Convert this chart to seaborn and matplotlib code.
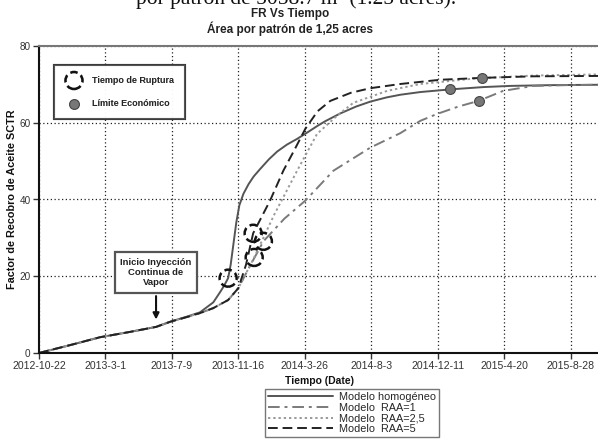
import numpy as np
import pandas as pd
import matplotlib
matplotlib.use("Agg")
import matplotlib.pyplot as plt
import matplotlib.dates as mdates
from matplotlib.ticker import FuncFormatter
import seaborn as sns

sns.set_theme(style="white")
plt.rcParams['font.family'] = ['Liberation Sans', 'DejaVu Sans']

start = pd.Timestamp("2012-10-22")

# days since 2012-10-22 and recovery factor (%)
homog_days = [0, 65, 119, 178, 229, 258, 290, 315, 341, 354, 362, 370, 375, 380, 386, 392, 400, 410, 420, 433, 450, 466, 485, 505, 523, 545, 560, 589, 620, 648, 680, 707, 746, 805, 870, 922, 1000, 1096]
homog_vals = [0, 2.2, 4.1, 5.5, 6.8, 8.2, 9.5, 10.6, 13.2, 15.8, 17.5, 19.5, 23, 28, 34, 38.5, 41.5, 44, 46, 48, 50.5, 52.5, 54.3, 55.8, 57.3, 59.2, 60.4, 62.4, 64.2, 65.5, 66.6, 67.3, 68.0, 68.7, 69.3, 69.6, 69.8, 69.9]

raa1_days = [0, 65, 119, 178, 229, 258, 290, 315, 341, 370, 390, 410, 439, 480, 521, 576, 648, 707, 746, 779, 820, 860, 908, 967, 1030, 1096]
raa1_vals = [0, 2.2, 4.1, 5.5, 6.8, 8.2, 9.4, 10.4, 11.7, 13.8, 16.9, 22, 29.1, 35, 39.7, 47.5, 53.5, 57.3, 60.5, 62.3, 64.2, 65.7, 68.3, 69.6, 69.8, 69.9]

raa25_days = [0, 65, 119, 178, 229, 258, 290, 315, 341, 370, 390, 421, 460, 505, 544, 583, 615, 681, 746, 850, 967, 1096]
raa25_vals = [0, 2.2, 4.1, 5.5, 6.8, 8.2, 9.4, 10.4, 11.7, 13.8, 16.9, 24.9, 36, 47.5, 57.1, 61.8, 65.2, 68.3, 70.1, 71.5, 72.3, 72.6]

raa5_days = [0, 65, 119, 178, 229, 258, 290, 315, 341, 370, 390, 405, 419, 452, 478, 500, 521, 545, 570, 610, 648, 707, 785, 867, 967, 1096]
raa5_vals = [0, 2.2, 4.1, 5.5, 6.8, 8.2, 9.4, 10.4, 11.7, 13.8, 16.9, 23, 31.2, 39.7, 47.5, 53, 58.4, 63, 65.7, 67.8, 69.0, 70.1, 71.2, 71.7, 72.1, 72.2]

# breakthrough time (Tiempo de Ruptura)
rupt_days = [370, 419, 421, 439]
rupt_vals = [19.5, 31.2, 24.9, 29.1]
# economic limit (Límite Económico)
lim_days = [805, 867, 860]
lim_vals = [68.7, 71.7, 65.7]

tick_days = [0, 130, 260, 390, 520, 650, 780, 910, 1040]

def to_dates(days):
    return start + pd.to_timedelta(days, unit="D")

fig = plt.figure(figsize=(5.98, 4.44), dpi=100)
ax = fig.add_axes([39/598, 1-353/444, 1-39/598+0.002, (353-46)/444])

series = [
    ("Modelo homogéneo", homog_days, homog_vals, "#555555", "-", 1.4),
    ("Modelo  RAA=1", raa1_days, raa1_vals, "#7a7a7a", (0, (6, 2.5, 1.5, 2.5)), 1.4),
    ("Modelo  RAA=2,5", raa25_days, raa25_vals, "#9a9a9a", (0, (1.2, 1.5)), 1.4),
    ("Modelo  RAA=5", raa5_days, raa5_vals, "#222222", (0, (5, 2.5)), 1.4),
]
line_handles = []
for name, d, v, c, ls, lw in series:
    df = pd.DataFrame({"t": to_dates(d), "fr": v})
    sns.lineplot(data=df, x="t", y="fr", ax=ax, color=c, linestyle=ls, linewidth=lw,
                 estimator=None, sort=True, label=name, legend=False)
    line_handles.append(ax.lines[-1])

rdf = pd.DataFrame({"t": to_dates(rupt_days), "fr": rupt_vals})
ldf = pd.DataFrame({"t": to_dates(lim_days), "fr": lim_vals})
sns.scatterplot(data=rdf, x="t", y="fr", ax=ax, s=150, facecolors="none",
                edgecolor="#111111", linewidth=1.8, linestyle=(0, (3, 1.6)),
                label="Tiempo de Ruptura", legend=False, zorder=5)
h_rupt = ax.collections[-1]
h_rupt.set_facecolor("none")
sns.scatterplot(data=ldf, x="t", y="fr", ax=ax, s=50, color="#777777",
                edgecolor="#444444", linewidth=0.8, label="Límite Económico",
                legend=False, zorder=5)
h_lim = ax.collections[-1]

ax.set_xlim(start, start + pd.Timedelta(days=1096))
ax.set_ylim(0, 80)
ticks = to_dates(tick_days)
ax.set_xticks(ticks)
ax.xaxis.set_major_formatter(FuncFormatter(
    lambda x, p: (lambda d: f"{d.year}-{d.month}-{d.day}")(mdates.num2date(x))))
ax.set_yticks([0, 20, 40, 60, 80])
ax.tick_params(axis="both", labelsize=7.2, colors="#333333", direction="out",
               length=4, width=1, left=True, bottom=True, pad=2)
ax.tick_params(axis="x", labelsize=7.6)
for t in ax.get_xticklabels() + ax.get_yticklabels():
    t.set_color("#333333")

ax.grid(True, which="major", color="#222222", linestyle=(0, (1, 2)), linewidth=0.9)
for s in ["left", "bottom"]:
    ax.spines[s].set_color("#111111")
    ax.spines[s].set_linewidth(1.5)
ax.spines["top"].set_color("#777777")
ax.spines["top"].set_linewidth(1.5)
ax.spines["right"].set_visible(False)

ax.set_xlabel("Tiempo (Date)", fontsize=7.5, fontweight="bold", color="#111111", labelpad=3)
ax.set_ylabel("Factor de Recobro de Aceite SCTR", fontsize=7.8, fontweight="bold",
              color="#111111", labelpad=2)

# annotation
ax.annotate("Inicio Inyección\nContinua de\nVapor",
            xy=(start + pd.Timedelta(days=229), 8.0),
            xytext=(start + pd.Timedelta(days=229), 21.0),
            ha="center", va="center", fontsize=6.8, fontweight="bold", color="#222222",
            bbox=dict(boxstyle="square,pad=0.55", fc="white", ec="#555555", lw=1.6),
            arrowprops=dict(arrowstyle="-|>", color="#111111", lw=1.5, mutation_scale=9),
            zorder=6)

# upper-left legend
leg1 = ax.legend([h_rupt, h_lim], ["Tiempo de Ruptura", "Límite Económico"],
                 loc="upper left", bbox_to_anchor=(0.027, 0.938),
                 prop={"weight": "bold", "size": 6.5}, frameon=True, fancybox=False,
                 edgecolor="#333333", borderpad=1.2, labelspacing=1.6,
                 handletextpad=1.0, borderaxespad=0, scatterpoints=1)
leg1.get_frame().set_linewidth(1.5)
ax.add_artist(leg1)

# bottom legend
leg2 = fig.legend(line_handles, [s[0] for s in series], loc="upper left",
                  bbox_to_anchor=(265/598, 1-389/444), fontsize=7.8, frameon=True,
                  fancybox=False, edgecolor="#555555", handlelength=6.0,
                  labelspacing=0.05, borderpad=0.3, handletextpad=0.5, borderaxespad=0)
leg2.get_frame().set_linewidth(1.0)

# titles
fig.text(290/598, 1-14.5/444, "FR Vs Tiempo", ha="center", va="center",
         fontsize=8.5, fontweight="bold", color="#222222")
fig.text(290/598, 1-29/444, "Área por patrón de 1,25 acres", ha="center", va="center",
         fontsize=8.5, fontweight="bold", color="#222222")
fig.text(296/598, 1-4/444, "por patrón de 5058.7 m² (1.25 acres).", ha="center",
         va="baseline", fontsize=15.5, family="Liberation Serif", color="#111111")

fig.savefig("out.png", dpi=100)
